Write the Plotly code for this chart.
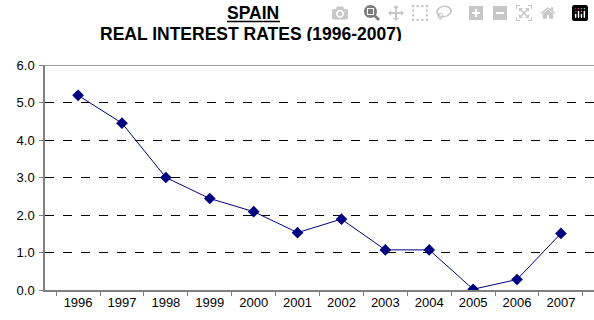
import plotly.graph_objects as go

years = ["1996", "1997", "1998", "1999", "2000", "2001", "2002", "2003", "2004", "2005", "2006", "2007"]
rates = [5.19, 4.45, 3.0, 2.44, 2.09, 1.53, 1.89, 1.07, 1.07, 0.02, 0.28, 1.51]
y_ticks = [0, 1, 2, 3, 4, 5, 6]
y_labels = ["0.0", "1.0", "2.0", "3.0", "4.0", "5.0", "6.0"]

W, H = 594, 320
L, R, T, B = 45, 0, 65, 30
pw = W - L - R
ph = H - T - B


def px_x(x):
    return (x - L) / pw


def px_y(y_from_top):
    return (H - y_from_top - B) / ph


fig = go.Figure()
fig.add_trace(go.Scatter(
    x=years, y=rates, mode="lines+markers",
    line=dict(color="#000080", width=1),
    marker=dict(symbol="diamond", size=9, color="#000080"),
    showlegend=False,
))

fig.update_layout(
    width=W, height=H,
    margin=dict(l=L, r=R, t=T, b=B),
    paper_bgcolor="white", plot_bgcolor="white",
    font=dict(family="Liberation Sans, Arial, sans-serif", size=13, color="#000000"),
    xaxis=dict(
        type="category", showgrid=False, showline=True, linecolor="#808080", linewidth=1.5,
        ticks="outside", tickson="boundaries", ticklen=4, tickcolor="#808080",
        tickfont=dict(size=13), zeroline=False,
    ),
    yaxis=dict(
        range=[0, 6], tickvals=y_ticks, ticktext=y_labels,
        showline=True, linecolor="#808080", linewidth=1.5,
        ticks="outside", ticklen=4, tickcolor="#808080",
        showgrid=True, gridcolor="#000000", gridwidth=1, griddash="dash",
        zeroline=False, tickfont=dict(size=13), ticklabelstandoff=2,
    ),
    annotations=[
        dict(text="<b>SPAIN</b>", x=px_x(253), y=px_y(13), xref="paper", yref="paper",
             showarrow=False, font=dict(size=17.5), xanchor="center", yanchor="middle",
             height=14, borderpad=0),
        dict(text="<b>REAL INTEREST RATES (1996-2007)</b>", x=px_x(251), y=px_y(34),
             xref="paper", yref="paper", showarrow=False, font=dict(size=17.5),
             xanchor="center", yanchor="middle", height=14, borderpad=0),
    ],
    shapes=[
        dict(type="line", xref="paper", yref="y", x0=0, x1=1, y0=6, y1=6,
             line=dict(color="#808080", width=1.5)),
        # underline of the "SPAIN" heading
        dict(type="line", xref="paper", yref="paper", x0=px_x(227), x1=px_x(280),
             y0=px_y(21.5), y1=px_y(21.5), line=dict(color="#000000", width=1.5)),
    ],
)

fig.write_html("out.html", post_script="document.body.style.margin='0';")
